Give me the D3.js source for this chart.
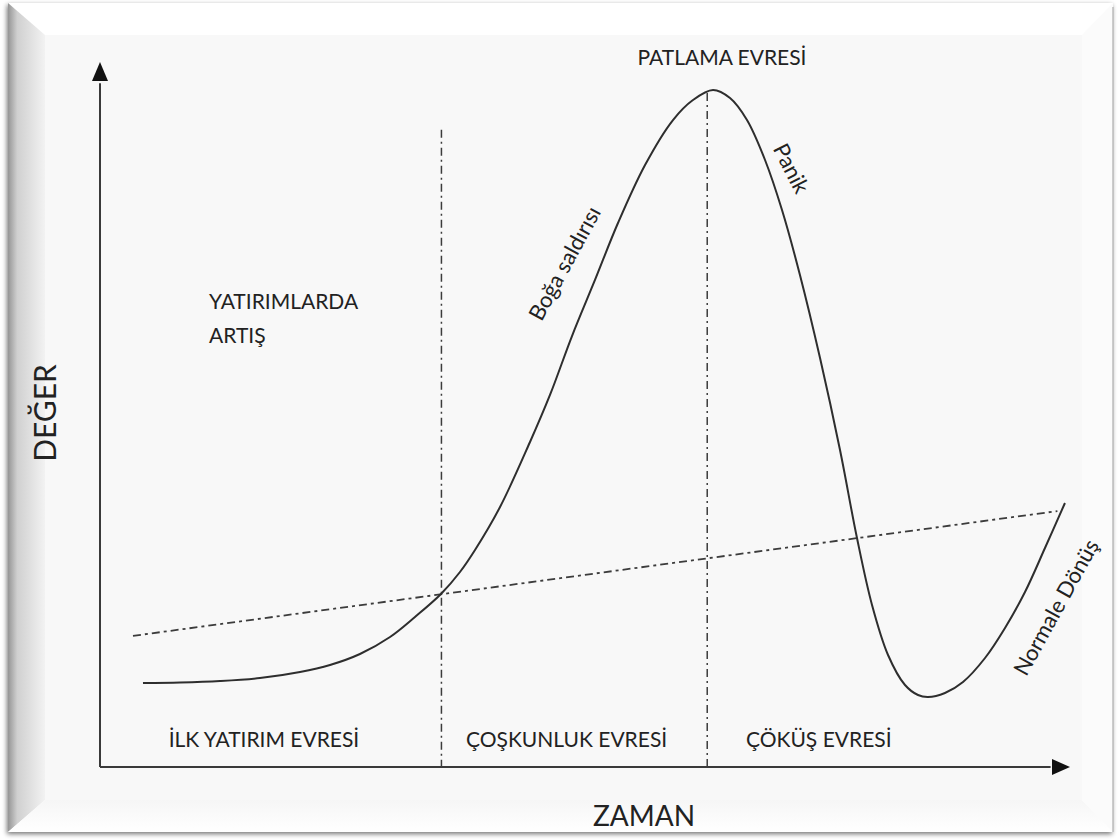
<!DOCTYPE html>
<html>
<head>
<meta charset="utf-8">
<script src="https://cdn.jsdelivr.net/npm/d3@7"></script>
<style>
  html, body { margin: 0; padding: 0; background: #ffffff; }
  svg { display: block; }
  text { font-family: Lato, "Open Sans", sans-serif; fill: #222; }
</style>
</head>
<body>
<svg id="chart" width="1120" height="840"></svg>
<script>
// ---- data (schematic units: time 0..100, value 0..100) ----
const curveTime  = [4.43, 8.25, 12.37, 16.49, 20.62, 23.71, 26.80, 29.90, 32.47, 35.15, 37.11, 38.66, 41.24, 44.33, 46.39, 48.66, 51.03, 53.40, 56.19, 59.07, 61.13, 63.20, 64.95, 66.70, 68.56, 70.31, 72.16, 74.23, 76.29, 78.04, 79.59, 81.24, 82.99, 84.33, 85.36, 87.11, 88.97, 91.24, 93.30, 95.36, 97.42, 99.48];
const curveValue = [11.91, 11.99, 12.20, 12.62, 13.48, 14.47, 16.03, 18.44, 21.28, 24.54, 27.66, 30.78, 36.88, 46.10, 52.77, 61.13, 69.08, 77.16, 85.39, 91.77, 94.61, 96.03, 94.89, 91.77, 86.10, 79.01, 69.79, 58.01, 44.96, 32.48, 22.98, 15.89, 11.63, 10.21, 9.93, 10.50, 12.06, 15.46, 19.72, 24.82, 31.06, 37.45];
const trendTime  = [3.4, 98.7];
const trendValue = [18.6, 36.3];
const phaseBoundaries = [35.2, 62.6];
const boundaryTops    = [90.4, 95.6];
const phaseLabels  = ["İLK YATIRIM EVRESİ", "ÇOŞKUNLUK EVRESİ", "ÇÖKÜŞ EVRESİ"];
const phaseCenters = [16.9, 48.1, 74.1];
const xTitle = "ZAMAN";
const yTitle = "DEĞER";
const peakLabel = "PATLAMA EVRESİ";
const sideLabel = ["YATIRIMLARDA", "ARTIŞ"];
const curveLabels = ["Boğa saldırısı", "Panik", "Normale Dönüş"];
const curveLabelTime  = [47.84, 71.34, 98.5];
const curveLabelValue = [71.49, 84.96, 22.7];
const curveLabelAngle = [-61.5, 63, -61];

const svg = d3.select("#chart");

// ---- frame (beveled picture frame) ----
const defs = svg.append("defs");
const lg = defs.append("linearGradient").attr("id", "leftBevel").attr("x1", "0").attr("x2", "1");
lg.append("stop").attr("offset", "0").attr("stop-color", "#959595");
lg.append("stop").attr("offset", "0.25").attr("stop-color", "#d0d0d0");
lg.append("stop").attr("offset", "1").attr("stop-color", "#f2f2f2");
const bg = defs.append("linearGradient").attr("id", "botBevel").attr("x1", "0").attr("x2", "0").attr("y1", "0").attr("y2", "1");
bg.append("stop").attr("offset", "0").attr("stop-color", "#f6f6f6");
bg.append("stop").attr("offset", "1").attr("stop-color", "#ffffff");
const sh = defs.append("filter").attr("id", "shadow").attr("x", "-5%").attr("y", "-5%").attr("width", "110%").attr("height", "110%");
sh.append("feGaussianBlur").attr("in", "SourceAlpha").attr("stdDeviation", 2.5);
sh.append("feOffset").attr("dx", -1).attr("dy", 2).attr("result", "b");
sh.append("feComponentTransfer").append("feFuncA").attr("type", "linear").attr("slope", 0.55);
const fm = sh.append("feMerge");
fm.append("feMergeNode");
fm.append("feMergeNode").attr("in", "SourceGraphic");

const O = {x0: 8, y0: 3, x1: 1113, y1: 832};
const I = {x0: 45, y0: 35, x1: 1082, y1: 800};
svg.append("rect").attr("x", O.x0).attr("y", O.y0).attr("width", O.x1 - O.x0).attr("height", O.y1 - O.y0)
  .attr("fill", "#ffffff").attr("filter", "url(#shadow)");
const poly = pts => pts.map(p => p.join(",")).join(" ");
svg.append("polygon").attr("points", poly([[O.x0,O.y0],[O.x1,O.y0],[I.x1,I.y0],[I.x0,I.y0]])).attr("fill", "#ffffff");
svg.append("polygon").attr("points", poly([[O.x0,O.y0],[I.x0,I.y0],[I.x0,I.y1],[O.x0,O.y1]])).attr("fill", "url(#leftBevel)");
svg.append("polygon").attr("points", poly([[O.x0,O.y1],[I.x0,I.y1],[I.x1,I.y1],[O.x1,O.y1]])).attr("fill", "url(#botBevel)");
svg.append("polygon").attr("points", poly([[O.x1,O.y0],[O.x1,O.y1],[I.x1,I.y1],[I.x1,I.y0]])).attr("fill", "#fbfbfb");
svg.append("rect").attr("x", I.x0).attr("y", I.y0).attr("width", I.x1 - I.x0).attr("height", I.y1 - I.y0).attr("fill", "#f8f8f8");
svg.append("line").attr("x1", O.x1).attr("x2", O.x1).attr("y1", O.y0 + 4).attr("y2", O.y1).attr("stroke", "#bdbdbd").attr("stroke-width", 1.5);

// ---- scales ----
const x = d3.scaleLinear().domain([0, 100]).range([100, 1070]);
const y = d3.scaleLinear().domain([0, 100]).range([767, 62]);

// ---- axes with arrows ----
const axisColor = "#3a3a3a";
svg.append("line").attr("x1", x(0)).attr("x2", x(0)).attr("y1", y(0)).attr("y2", y(97)).attr("stroke", axisColor).attr("stroke-width", 2);
svg.append("line").attr("x1", x(0)).attr("x2", x(98)).attr("y1", y(0)).attr("y2", y(0)).attr("stroke", axisColor).attr("stroke-width", 2);
svg.append("polygon").attr("points", poly([[x(0), y(100)], [x(0) - 8, y(100) + 19], [x(0) + 8, y(100) + 19]])).attr("fill", "#111");
svg.append("polygon").attr("points", poly([[x(100), y(0)], [x(100) - 18, y(0) - 8], [x(100) - 18, y(0) + 8]])).attr("fill", "#111");

// ---- trend line (dash-dot) ----
svg.append("line")
  .attr("x1", x(trendTime[0])).attr("y1", y(trendValue[0]))
  .attr("x2", x(trendTime[1])).attr("y2", y(trendValue[1]))
  .attr("stroke", "#3c3c3c").attr("stroke-width", 1.8).attr("stroke-dasharray", "8,4,3,4");

// ---- phase boundaries ----
svg.selectAll(".bound").data(phaseBoundaries).enter().append("line")
  .attr("x1", d => x(d)).attr("x2", d => x(d))
  .attr("y1", (d, i) => y(boundaryTops[i])).attr("y2", y(0))
  .attr("stroke", "#3c3c3c").attr("stroke-width", 1.5).attr("stroke-dasharray", "8,4,2,4");

// ---- bubble curve ----
const pts = curveTime.map((t, i) => [t, curveValue[i]]);
const line = d3.line().x(d => x(d[0])).y(d => y(d[1])).curve(d3.curveCatmullRom.alpha(0.5));
svg.append("path").attr("d", line(pts)).attr("fill", "none").attr("stroke", "#2e2e2e").attr("stroke-width", 2);

// ---- texts ----
svg.selectAll(".phase").data(phaseLabels).enter().append("text")
  .attr("x", (d, i) => x(phaseCenters[i])).attr("y", 747)
  .attr("text-anchor", "middle").attr("font-size", 21).text(d => d);

svg.append("text").attr("x", 722).attr("y", 65).attr("text-anchor", "middle").attr("font-size", 21).text(peakLabel);

svg.selectAll(".side").data(sideLabel).enter().append("text")
  .attr("x", 209).attr("y", (d, i) => 309 + i * 34).attr("font-size", 21).text(d => d);

svg.append("text").attr("x", 644).attr("y", 826).attr("text-anchor", "middle").attr("font-size", 28).text(xTitle);
svg.append("text").attr("transform", "translate(56,413) rotate(-90)").attr("text-anchor", "middle").attr("font-size", 30).text(yTitle);

svg.selectAll(".clab").data(curveLabels).enter().append("text")
  .attr("transform", (d, i) => `translate(${x(curveLabelTime[i])},${y(curveLabelValue[i])}) rotate(${curveLabelAngle[i]})`)
  .attr("text-anchor", "middle").attr("dominant-baseline", "central").attr("font-size", 22).text(d => d);
</script>
</body>
</html>
